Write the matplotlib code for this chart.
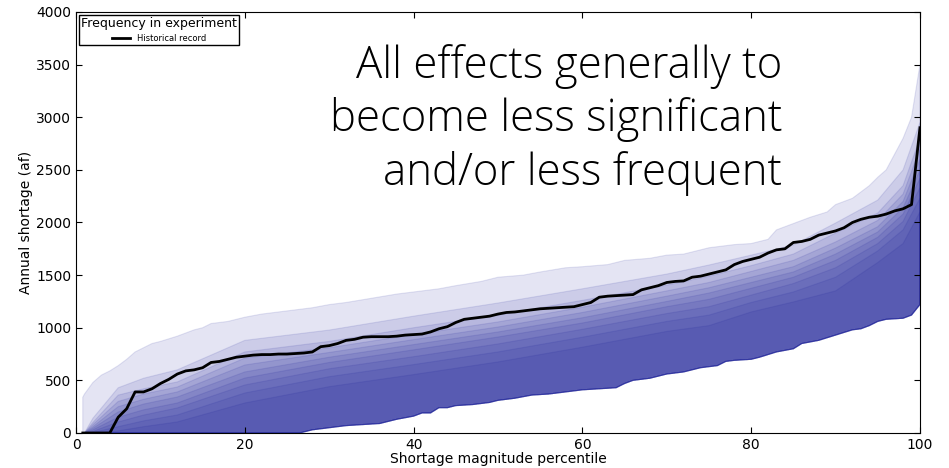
import numpy as np
import matplotlib
matplotlib.use('Agg')
import matplotlib.pyplot as plt

# ensemble envelope: maximum
p_max = [0.8, 1, 2, 3, 4, 5, 6, 7, 8, 9, 10, 12, 14, 15, 16, 18, 20, 22, 25, 28, 30, 32, 35, 38, 40,
         43, 45, 48, 50, 53, 55, 58, 60, 63, 65, 68, 70, 72, 75, 78, 80, 82, 83, 85, 87, 89, 90,
         92, 94, 95, 96, 97, 98, 99, 100]
s_max = [340, 370, 480, 550, 590, 640, 700, 770, 810, 850, 870, 920, 980, 1000, 1040, 1060, 1100, 1130,
         1160, 1190, 1220, 1240, 1280, 1320, 1340, 1370, 1400, 1440, 1480, 1500, 1530, 1570, 1580, 1600,
         1640, 1660, 1690, 1700, 1760, 1790, 1800, 1840, 1930, 1990, 2050, 2100, 2170, 2230, 2350, 2430,
         2500, 2650, 2800, 3000, 3500]

# ensemble envelope: minimum
p_min = [0.8, 26.5, 28, 30, 32, 34, 36, 37, 38, 40, 41, 42, 43, 44, 45, 47, 49, 50, 52, 54, 56, 58, 60,
         62, 64, 65, 66, 68, 70, 72, 74, 76, 77, 78, 80, 81, 83, 85, 86, 88, 90, 92, 93, 94, 95, 96,
         98, 99, 100]
s_min = [0, 0, 30, 50, 70, 80, 90, 110, 130, 160, 190, 190, 240, 240, 260, 270, 290, 310, 330, 360, 370,
         390, 410, 420, 430, 470, 500, 520, 560, 580, 620, 640, 680, 690, 700, 720, 770, 800, 850, 880,
         930, 980, 990, 1020, 1060, 1080, 1090, 1120, 1220]

# intermediate frequency levels (90th .. 10th)
p_q = [1, 2, 5, 8, 12, 20, 30, 40, 50, 60, 70, 75, 80, 85, 90, 95, 98, 100]
q90 = [0, 140, 430, 520, 600, 880, 978, 1110, 1235, 1370, 1510, 1596, 1690, 1786, 1995, 2213, 2500, 2950]
q80 = [0, 100, 360, 420, 485, 770, 870, 1000, 1121, 1260, 1405, 1490, 1590, 1700, 1900, 2090, 2350, 2800]
q70 = [0, 80, 300, 370, 437, 712, 810, 935, 1055, 1195, 1350, 1430, 1535, 1640, 1815, 2020, 2270, 2700]
q60 = [0, 60, 250, 320, 390, 646, 765, 887, 1007, 1145, 1300, 1380, 1480, 1580, 1757, 1960, 2200, 2600]
q50 = [0, 45, 200, 275, 342, 580, 720, 840, 960, 1095, 1250, 1330, 1430, 1530, 1700, 1910, 2140, 2500]
q40 = [0, 30, 150, 220, 285, 522, 670, 790, 912, 1045, 1200, 1270, 1375, 1480, 1640, 1860, 2080, 2420]
q30 = [0, 15, 105, 170, 238, 456, 610, 725, 846, 985, 1135, 1200, 1310, 1420, 1570, 1800, 2010, 2330]
q20 = [0, 5, 60, 115, 171, 380, 535, 650, 770, 910, 1060, 1120, 1240, 1340, 1480, 1730, 1930, 2230]
q10 = [0, 0, 20, 60, 105, 285, 440, 555, 675, 815, 965, 1020, 1150, 1245, 1350, 1620, 1800, 2100]

# historical record
p_hist = [0.8, 4] + list(range(5, 101))
s_hist = [0, 0, 150, 230, 390, 390, 420, 470, 510, 560, 590, 600, 620, 670, 680, 700, 720, 730, 740,
          745, 745, 750, 750, 755, 760, 770, 820, 830, 850, 880, 890, 910, 915, 915, 915, 920, 930, 935,
          940, 960, 990, 1010, 1050, 1080, 1090, 1100, 1110, 1130, 1145, 1150, 1160, 1170, 1180, 1185,
          1190, 1195, 1200, 1220, 1240, 1290, 1300, 1305, 1310, 1315, 1360, 1380, 1400, 1430, 1440, 1445,
          1480, 1490, 1510, 1530, 1550, 1600, 1630, 1650, 1670, 1710, 1740, 1750, 1810, 1820, 1840, 1880,
          1900, 1920, 1950, 2000, 2030, 2050, 2060, 2080, 2110, 2130, 2170, 2900]

fig = plt.figure(figsize=(9.49, 4.68), dpi=100)
ax = fig.add_axes([0.0801, 0.0748, 0.8893, 0.8996])

band_col = (20/255., 25/255., 150/255.)
a = 0.115
xmin_r = np.array(p_min)[::-1]
ymin_r = np.array(s_min)[::-1]

uppers = [(p_max, s_max)] + [(p_q, q) for q in (q90, q80, q70, q60, q50, q40, q30, q20, q10)]
for xu, yu in uppers:
    xs = np.concatenate([xu, xmin_r])
    ys = np.concatenate([yu, ymin_r])
    ax.fill(xs, ys, facecolor=band_col, edgecolor=band_col, alpha=a, linewidth=0.8)

ax.plot(p_hist, s_hist, 'k', linewidth=2, label='Historical record')

ax.set_xlim(0, 100)
ax.set_ylim(0, 4000)
ax.set_xticks([0, 20, 40, 60, 80, 100])
ax.set_yticks(np.arange(0, 4001, 500))
ax.tick_params(direction='in', top=True, right=True, length=4, labelsize=10)
ax.set_xlabel('Shortage magnitude percentile', fontsize=10, labelpad=0)
ax.set_ylabel('Annual shortage (af)', fontsize=10, labelpad=2)

leg = ax.legend(loc='upper left', title='Frequency in experiment', fontsize=6,
                title_fontsize=9, fancybox=False, framealpha=1, borderpad=0.25,
                handlelength=2.2, borderaxespad=0.35)
leg.get_frame().set_edgecolor('black')
leg.get_frame().set_linewidth(1)

ax.text(0.837, 0.925, 'All effects generally to\nbecome less significant\nand/or less frequent',
        transform=ax.transAxes, ha='right', va='top', fontsize=31.5, family='Open Sans',
        weight='light', linespacing=1.26, color='black')

plt.savefig('out.png', dpi=100)
